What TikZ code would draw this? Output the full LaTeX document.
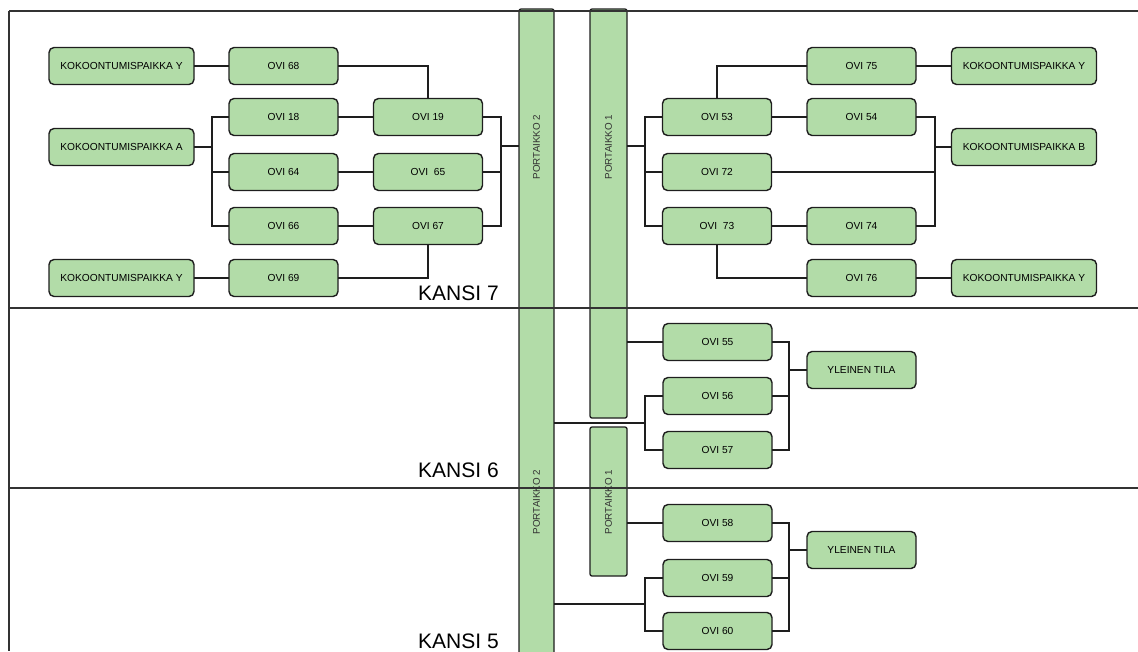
\documentclass[tikz,border=0pt]{standalone}
\usepackage{fontspec}
\setmainfont{Liberation Sans}
\usepackage{tikz}
\definecolor{doorgreen}{RGB}{178,220,168}
\definecolor{wirecol}{RGB}{30,30,30}
\pgfdeclarelayer{edgelayer}
\pgfdeclarelayer{nodelayer}
\pgfsetlayers{nodelayer,main,edgelayer}
\tikzset{
	door/.style={draw=wirecol, fill=doorgreen, rounded corners=5pt, line width=1.4pt,
		minimum width=109pt, minimum height=37pt, inner sep=0pt,
		font=\fontsize{10.2}{11}\selectfont},
	meetpoint/.style={door, minimum width=145pt},
	stairbar/.style={draw=wirecol, fill=doorgreen, rounded corners=2pt, line width=1.3pt, inner sep=0pt},
	stairtext/.style={rotate=90, text=black!80, font=\fontsize{9.8}{10}\selectfont},
	decklabel/.style={anchor=base west, inner sep=0pt, font=\fontsize{21}{24}\selectfont},
	wire/.style={draw=wirecol, line width=1.2pt, line cap=rect},
	deckline/.style={draw=black!80, line width=1.2pt}
}

\begin{document}
\begin{tikzpicture}[x=1pt, y=-1pt]
	\useasboundingbox (0, 0) rectangle (1138, 651);
	\begin{pgfonlayer}{nodelayer}
		% stairways
		\node [stairbar, minimum width=35pt, minimum height=651pt] (30) at (536.5, 334.5) {};
		\node [stairbar, minimum width=37pt, minimum height=409pt] (31) at (608.5, 213.5) {};
		\node [stairbar, minimum width=37pt, minimum height=149pt] (32) at (608.5, 501.5) {};
		\node [stairtext] (33) at (536.5, 147) {PORTAIKKO 2};
		\node [stairtext] (34) at (536.5, 502) {PORTAIKKO 2};
		\node [stairtext] (35) at (608.5, 147) {PORTAIKKO 1};
		\node [stairtext] (36) at (608.5, 502) {PORTAIKKO 1};
		% deck 7, left
		\node [meetpoint] (0) at (121.5, 66) {KOKOONTUMISPAIKKA Y};
		\node [door] (1) at (283.5, 66) {OVI 68};
		\node [meetpoint] (2) at (121.5, 147) {KOKOONTUMISPAIKKA A};
		\node [door] (3) at (283.5, 117) {OVI 18};
		\node [door] (4) at (283.5, 172) {OVI 64};
		\node [door] (5) at (283.5, 226) {OVI 66};
		\node [door] (6) at (428, 117) {OVI 19};
		\node [door] (7) at (428, 172) {OVI\ \ 65};
		\node [door] (8) at (428, 226) {OVI 67};
		\node [meetpoint] (9) at (121.5, 278) {KOKOONTUMISPAIKKA Y};
		\node [door] (10) at (283.5, 278) {OVI 69};
		% deck 7, right
		\node [door] (11) at (717, 117) {OVI 53};
		\node [door] (12) at (717, 172) {OVI 72};
		\node [door] (13) at (717, 226) {OVI\ \ 73};
		\node [door] (14) at (861.5, 66) {OVI 75};
		\node [door] (15) at (861.5, 117) {OVI 54};
		\node [door] (16) at (861.5, 226) {OVI 74};
		\node [door] (17) at (861.5, 278) {OVI 76};
		\node [meetpoint] (18) at (1024, 66) {KOKOONTUMISPAIKKA Y};
		\node [meetpoint] (19) at (1024, 147) {KOKOONTUMISPAIKKA B};
		\node [meetpoint] (20) at (1024, 278) {KOKOONTUMISPAIKKA Y};
		% deck 6
		\node [door] (21) at (717.5, 342) {OVI 55};
		\node [door] (22) at (717.5, 396) {OVI 56};
		\node [door] (23) at (717.5, 450) {OVI 57};
		\node [door] (24) at (861.5, 370) {YLEINEN TILA};
		% deck 5
		\node [door] (25) at (717.5, 523) {OVI 58};
		\node [door] (26) at (717.5, 578) {OVI 59};
		\node [door] (27) at (717.5, 631) {OVI 60};
		\node [door] (28) at (861.5, 550) {YLEINEN TILA};
		% deck names
		\node [decklabel] (37) at (418, 300) {KANSI 7};
		\node [decklabel] (38) at (418, 477) {KANSI 6};
		\node [decklabel] (39) at (418, 648) {KANSI 5};
		% bends and joints
		\node [] (40) at (428, 66) {};
		\node [] (41) at (428, 278) {};
		\node [] (42) at (212, 117) {};
		\node [] (43) at (212, 147) {};
		\node [] (44) at (212, 172) {};
		\node [] (45) at (212, 226) {};
		\node [] (46) at (501, 117) {};
		\node [] (47) at (501, 146) {};
		\node [] (48) at (501, 172) {};
		\node [] (49) at (501, 226) {};
		\node [] (50) at (645, 117) {};
		\node [] (51) at (645, 146) {};
		\node [] (52) at (645, 172) {};
		\node [] (53) at (645, 226) {};
		\node [] (54) at (717, 66) {};
		\node [] (55) at (717, 278) {};
		\node [] (56) at (935, 117) {};
		\node [] (57) at (935, 147) {};
		\node [] (58) at (935, 172) {};
		\node [] (59) at (935, 226) {};
		\node [] (60) at (645, 396) {};
		\node [] (61) at (645, 423) {};
		\node [] (62) at (645, 450) {};
		\node [] (63) at (789, 342) {};
		\node [] (64) at (789, 370) {};
		\node [] (65) at (789, 396) {};
		\node [] (66) at (789, 450) {};
		\node [] (67) at (645, 578) {};
		\node [] (68) at (645, 604) {};
		\node [] (69) at (645, 631) {};
		\node [] (70) at (789, 523) {};
		\node [] (71) at (789, 550) {};
		\node [] (72) at (789, 578) {};
		\node [] (73) at (789, 631) {};
		% deck outline
		\node [] (74) at (9, 11) {};
		\node [] (75) at (1138, 11) {};
		\node [] (76) at (9, 651) {};
		\node [] (77) at (9, 308) {};
		\node [] (78) at (1138, 308) {};
		\node [] (79) at (9, 488) {};
		\node [] (80) at (1138, 488) {};
	\end{pgfonlayer}
	\begin{pgfonlayer}{edgelayer}
		\draw [deckline] (74.center) to (75.center);
		\draw [deckline] (74.center) to (76.center);
		\draw [deckline] (77.center) to (78.center);
		\draw [deckline] (79.center) to (80.center);
		% deck 7, left
		\draw [wire] (0.east) to (1.west);
		\draw [wire] (1.east) to (40.center);
		\draw [wire] (40.center) to (6.north);
		\draw [wire] (9.east) to (10.west);
		\draw [wire] (10.east) to (41.center);
		\draw [wire] (41.center) to (8.south);
		\draw [wire] (2.east) to (43.center);
		\draw [wire] (42.center) to (45.center);
		\draw [wire] (42.center) to (3.west);
		\draw [wire] (44.center) to (4.west);
		\draw [wire] (45.center) to (5.west);
		\draw [wire] (3.east) to (6.west);
		\draw [wire] (4.east) to (7.west);
		\draw [wire] (5.east) to (8.west);
		\draw [wire] (6.east) to (46.center);
		\draw [wire] (7.east) to (48.center);
		\draw [wire] (8.east) to (49.center);
		\draw [wire] (46.center) to (49.center);
		\draw [wire] (47.center) to (47.center -| 30.west);
		% deck 7, right
		\draw [wire] (51.center -| 31.east) to (51.center);
		\draw [wire] (50.center) to (53.center);
		\draw [wire] (50.center) to (11.west);
		\draw [wire] (52.center) to (12.west);
		\draw [wire] (53.center) to (13.west);
		\draw [wire] (11.north) to (54.center);
		\draw [wire] (54.center) to (14.west);
		\draw [wire] (14.east) to (18.west);
		\draw [wire] (11.east) to (15.west);
		\draw [wire] (13.east) to (16.west);
		\draw [wire] (13.south) to (55.center);
		\draw [wire] (55.center) to (17.west);
		\draw [wire] (17.east) to (20.west);
		\draw [wire] (15.east) to (56.center);
		\draw [wire] (12.east) to (58.center);
		\draw [wire] (16.east) to (59.center);
		\draw [wire] (56.center) to (59.center);
		\draw [wire] (57.center) to (19.west);
		% deck 6
		\draw [wire] (21.west -| 31.east) to (21.west);
		\draw [wire] (61.center -| 30.east) to (61.center);
		\draw [wire] (60.center) to (62.center);
		\draw [wire] (60.center) to (22.west);
		\draw [wire] (62.center) to (23.west);
		\draw [wire] (21.east) to (63.center);
		\draw [wire] (22.east) to (65.center);
		\draw [wire] (23.east) to (66.center);
		\draw [wire] (63.center) to (66.center);
		\draw [wire] (64.center) to (24.west);
		% deck 5
		\draw [wire] (25.west -| 32.east) to (25.west);
		\draw [wire] (68.center -| 30.east) to (68.center);
		\draw [wire] (67.center) to (69.center);
		\draw [wire] (67.center) to (26.west);
		\draw [wire] (69.center) to (27.west);
		\draw [wire] (25.east) to (70.center);
		\draw [wire] (26.east) to (72.center);
		\draw [wire] (27.east) to (73.center);
		\draw [wire] (70.center) to (73.center);
		\draw [wire] (71.center) to (28.west);
	\end{pgfonlayer}
\end{tikzpicture}
\end{document}
